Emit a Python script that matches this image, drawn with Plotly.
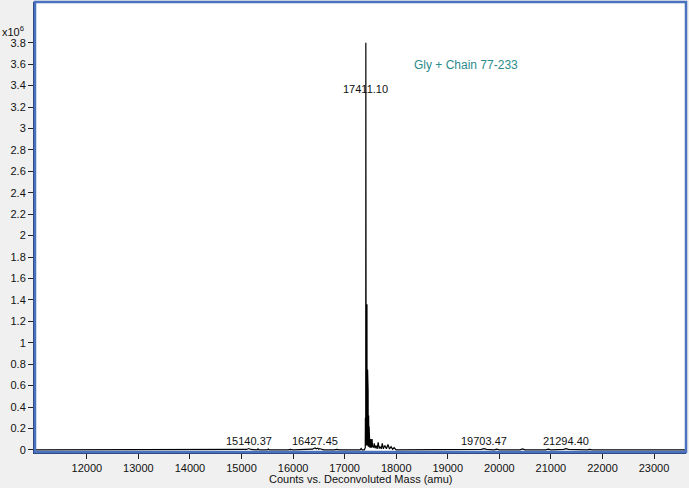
"""
plot.py
Deconvoluted mass spectrum (Gly + Chain 77-233) redrawn with Plotly.
"""

import plotly.graph_objects as go

# --- Spectrum data (mass in amu, counts in units of 10^6) ---
masses = [
    11000, 11800, 11850, 11900, 12600, 12650, 12700, 13500, 13550, 13600,
    14400, 14450, 14500, 14900, 14950, 15000, 15100, 15140.37, 15180, 15300,
    15320, 15340, 15500, 15520, 15540, 15900, 15950, 16000, 16300, 16380,
    16400, 16427.45, 16450, 16480, 16500, 16520, 16560, 16600, 16800, 16850,
    16900, 17100, 17150, 17200, 17300, 17320, 17340, 17380, 17395, 17400,
    17403, 17405, 17407, 17409, 17411.10, 17413, 17415, 17417, 17419, 17421,
    17423, 17425, 17427, 17429, 17431, 17433, 17435, 17437, 17439, 17441,
    17443, 17445, 17447, 17449, 17451, 17453, 17455, 17457, 17459, 17461,
    17463, 17465, 17467, 17469, 17471, 17474, 17477, 17480, 17483, 17486,
    17490, 17494, 17498, 17502, 17506, 17510, 17515, 17520, 17525, 17532,
    17540, 17550, 17560, 17575, 17590, 17610, 17630, 17650, 17670, 17690,
    17710, 17730, 17750, 17780, 17810, 17840, 17870, 17900, 17930, 17960,
    18000, 18300, 18350, 18400, 18800, 18850, 18900, 19300, 19350, 19400,
    19650, 19703.47, 19750, 19900, 19950, 20000, 20400, 20450, 20500, 20900,
    20950, 21000, 21250, 21294.40, 21340, 21700, 21750, 21800, 22200, 22250,
    22300, 22700, 22750, 22800, 23100, 23150, 23200, 23600,
]
counts = [
    0.0, 0.0, 0.004, 0.0, 0.0, 0.003, 0.0, 0.0, 0.003, 0.0,
    0.0, 0.004, 0.0, 0.0, 0.006, 0.0, 0.004, 0.012, 0.004, 0.0,
    0.01, 0.0, 0.0, 0.008, 0.0, 0.0, 0.005, 0.0, 0.0, 0.006,
    0.012, 0.018, 0.01, 0.015, 0.006, 0.012, 0.004, 0.0, 0.0, 0.005,
    0.0, 0.0, 0.005, 0.0, 0.0, 0.012, 0.0, 0.0, 0.015, 0.02,
    0.30, 0.05, 0.28, 0.08, 3.80, 0.06, 0.30, 0.04, 0.25, 0.05,
    0.27, 0.05, 0.36, 0.06, 0.30, 1.36, 0.05, 0.40, 0.04, 0.28,
    0.05, 0.75, 0.04, 0.30, 0.04, 0.22, 0.55, 0.04, 0.20, 0.03,
    0.16, 0.32, 0.03, 0.14, 0.03, 0.22, 0.03, 0.12, 0.02, 0.15,
    0.02, 0.10, 0.02, 0.08, 0.02, 0.10, 0.02, 0.06, 0.02, 0.10,
    0.03, 0.04, 0.02, 0.06, 0.015, 0.04, 0.01, 0.07, 0.012, 0.03,
    0.01, 0.06, 0.01, 0.04, 0.01, 0.05, 0.008, 0.03, 0.006, 0.02,
    0.0, 0.0, 0.005, 0.0, 0.0, 0.004, 0.0, 0.0, 0.006, 0.0,
    0.004, 0.012, 0.004, 0.0, 0.006, 0.0, 0.0, 0.008, 0.0, 0.0,
    0.006, 0.0, 0.004, 0.012, 0.004, 0.0, 0.005, 0.0, 0.0, 0.006,
    0.0, 0.0, 0.005, 0.0, 0.0, 0.007, 0.0, 0.0,
]

# --- Labelled peaks ---
peak_masses = [15140.37, 16427.45, 17411.10, 19703.47, 21294.40]
peak_labels = ["15140.37", "16427.45", "17411.10", "19703.47", "21294.40"]
peak_label_y = [0.085, 0.085, 3.37, 0.085, 0.085]

# --- Axis ticks ---
x_ticks = [12000, 13000, 14000, 15000, 16000, 17000, 18000, 19000, 20000,
           21000, 22000, 23000]
y_ticks = [0, 0.2, 0.4, 0.6, 0.8, 1, 1.2, 1.4, 1.6, 1.8, 2, 2.2, 2.4, 2.6,
           2.8, 3, 3.2, 3.4, 3.6, 3.8]

FONT = "Liberation Sans, Arial, sans-serif"

fig = go.Figure()
fig.add_trace(go.Scatter(
    x=masses,
    y=counts,
    mode="lines",
    line=dict(color="black", width=1.2),
    hoverinfo="x+y",
    showlegend=False,
))

for m, lab, ly in zip(peak_masses, peak_labels, peak_label_y):
    fig.add_annotation(
        x=m, y=ly, text=lab, showarrow=False,
        xanchor="center", yanchor="middle",
        font=dict(family=FONT, size=11, color="#111111"),
    )

# compound label
fig.add_annotation(
    x=19360, y=3.59, text="Gly + Chain 77-233", showarrow=False,
    xanchor="center", yanchor="middle",
    font=dict(family=FONT, size=12, color="#2b8c8c"),
)

# exponent marker top-left
fig.add_annotation(
    xref="paper", yref="paper", x=-0.054, y=0.935,
    text="x10<sup>6</sup>", showarrow=False,
    xanchor="left", yanchor="middle",
    font=dict(family=FONT, size=11, color="#111111"),
)

# x axis title (placed by hand so the margin stays fixed)
fig.add_annotation(
    xref="paper", yref="paper", x=0.50, y=-0.06,
    text="Counts vs. Deconvoluted Mass (amu)", showarrow=False,
    xanchor="center", yanchor="middle",
    font=dict(family=FONT, size=11, color="#111111"),
)

# blue frame around plotting area
fig.add_shape(
    type="rect", xref="paper", yref="paper", x0=0, y0=0, x1=1, y1=1,
    line=dict(color="#4a72bf", width=2.5), layer="above",
)

fig.update_layout(
    width=689,
    height=488,
    margin=dict(l=35, r=3, t=2, b=36),
    paper_bgcolor="#f0f0f0",
    plot_bgcolor="white",
    font=dict(family=FONT, size=11, color="#111111"),
    xaxis=dict(
        range=[10995, 23620],
        tickvals=x_ticks,
        ticktext=[str(v) for v in x_ticks],
        ticks="outside", ticklen=5, tickcolor="#222222",
        showline=True, linecolor="#263f73", linewidth=2,
        showgrid=False, zeroline=False, automargin=False,
    ),
    yaxis=dict(
        range=[-0.02, 4.18],
        tickvals=y_ticks,
        ticktext=[f"{v:g}" for v in y_ticks],
        ticks="outside", ticklen=5, tickcolor="#222222",
        showline=True, linecolor="#263f73", linewidth=2,
        showgrid=False, zeroline=False, automargin=False,
    ),
)

# page body has a default 8px margin; drop it so the figure fills the window
fig.write_html(
    "out.html",
    config={"displayModeBar": False},
    post_script="document.body.style.margin='0';document.body.style.overflow='hidden';",
)
